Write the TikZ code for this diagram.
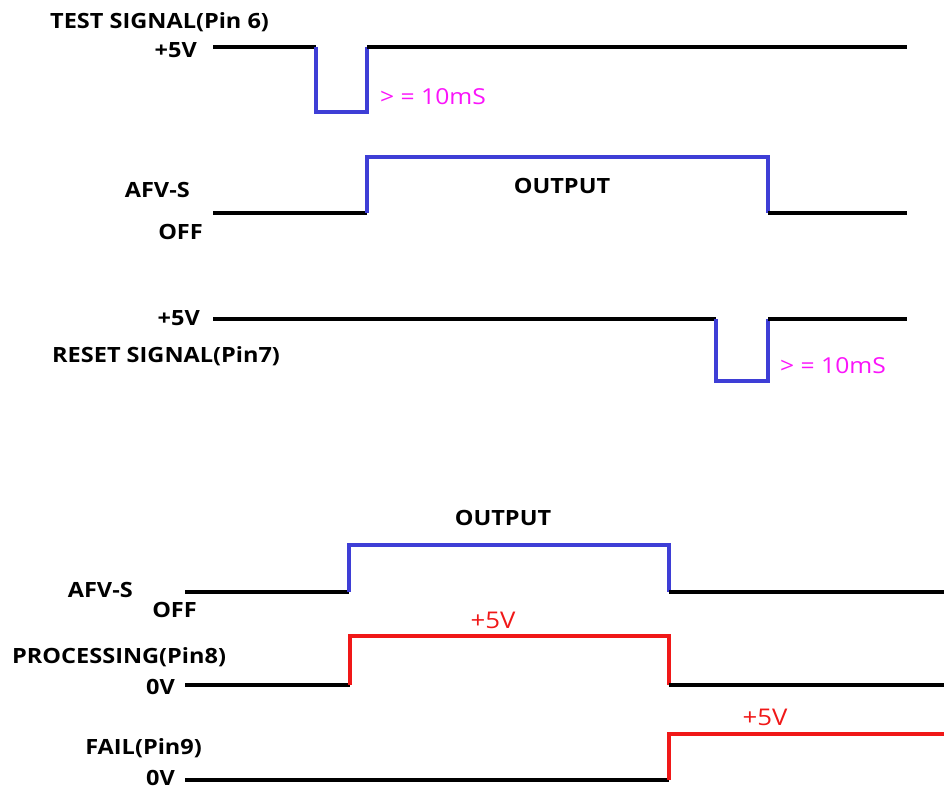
\documentclass[tikz,border=0pt]{standalone}
\usepackage{fontspec}
\setmainfont{Open Sans}[FakeStretch=1.12]
\usepackage{xcolor}
\usetikzlibrary{positioning}

\definecolor{pulseblue}{RGB}{62,62,214}
\definecolor{notemag}{RGB}{250,20,250}
\definecolor{levelred}{RGB}{240,24,24}

\tikzset{
  lvl/.style={line width=3.6pt, black},
  pulse/.style={line width=3.2pt, pulseblue},
  hot/.style={line width=3.2pt, levelred},
  sig/.style={inner sep=0pt, font=\fontsize{21}{24}\selectfont\bfseries},
  note/.style={inner sep=0pt, notemag, font=\fontsize{22}{24}\selectfont},
  volt/.style={inner sep=0pt, levelred, font=\fontsize{23}{25}\selectfont}
}

\begin{document}
\begin{tikzpicture}[x=1pt, y=-1pt]
\useasboundingbox (0,0) rectangle (944,789);

% Test signal
\draw[lvl] (213,47) -- (316,47);
\draw[pulse] (316,47) -- (316,112) -- (367,112) -- (367,47);
\draw[lvl] (367,47) -- (907,47);
\node[sig, anchor=west] (testname) at (50,22) {TEST SIGNAL(Pin 6)};
\node[sig, anchor=east] (testhi) at (197,50) {+5V};
\node[note, anchor=west] (testwidth) at (380,97) {> = 10mS};

% AFV-S output (upper)
\draw[lvl] (213,213) -- (367,213);
\draw[pulse] (367,213) -- (367,157) -- (768,157) -- (768,213);
\draw[lvl] (768,213) -- (907,213);
\node[sig] (outa) at (562,186) {OUTPUT};
\node[sig, anchor=east] (afva) at (190,190) {AFV-S};
\node[sig, anchor=east] (offa) at (203,232) {OFF};

% Reset signal
\draw[lvl] (213,319) -- (716,319);
\draw[pulse] (716,319) -- (716,381) -- (768,381) -- (768,319);
\draw[lvl] (768,319) -- (907,319);
\node[sig, anchor=east] (resethi) at (200,318) {+5V};
\node[sig, anchor=west] (resetname) at (52,356) {RESET SIGNAL(Pin7)};
\node[note, anchor=west] (resetwidth) at (780,366) {> = 10mS};

% AFV-S output (lower)
\draw[lvl] (185,592) -- (349,592);
\draw[pulse] (349,592) -- (349,545) -- (669,545) -- (669,592);
\draw[lvl] (669,592) -- (944,592);
\node[sig] (outb) at (503,518) {OUTPUT};
\node[sig, anchor=east] (afvb) at (133,590) {AFV-S};
\node[sig, anchor=east] (offb) at (197,610) {OFF};

% Processing
\draw[lvl] (185,685) -- (350,685);
\draw[hot] (350,685) -- (350,636) -- (669,636) -- (669,685);
\draw[lvl] (669,685) -- (944,685);
\node[volt] (prochi) at (493,620) {+5V};
\node[sig, anchor=west] (procname) at (12,657) {PROCESSING(Pin8)};
\node[sig, anchor=east] (proclo) at (175,687) {0V};

% Fail
\draw[lvl] (185,780) -- (669,780);
\draw[hot] (669,780) -- (669,734) -- (944,734);
\node[volt] (failhi) at (765,717) {+5V};
\node[sig, anchor=east] (failname) at (202,748) {FAIL(Pin9)};
\node[sig, anchor=east] (faillo) at (175,778) {0V};
\end{tikzpicture}
\end{document}
